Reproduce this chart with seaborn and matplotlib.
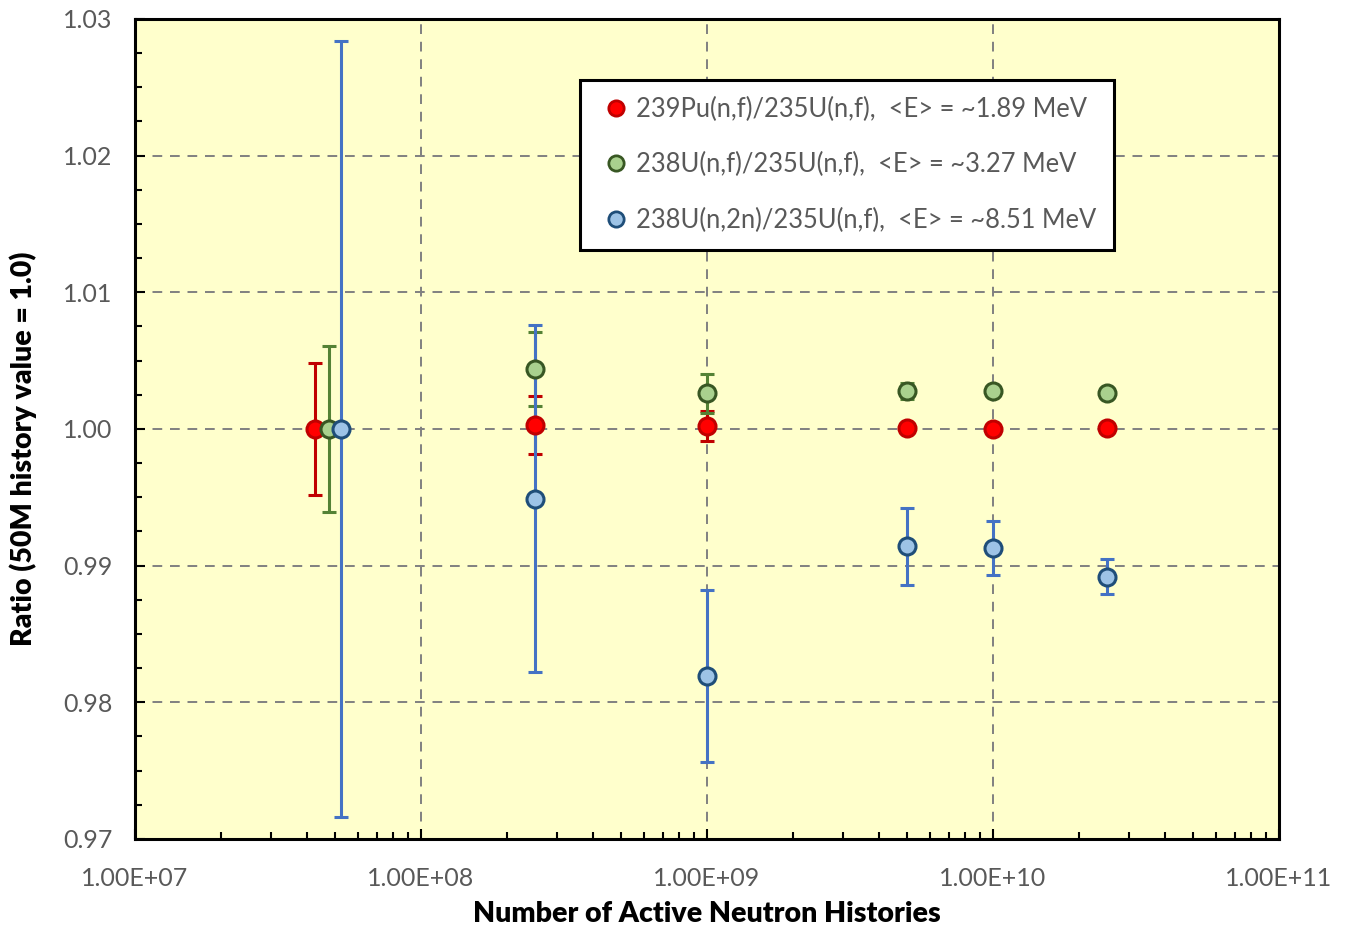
import numpy as np
import pandas as pd
import matplotlib
matplotlib.use("Agg")
import matplotlib.pyplot as plt
from matplotlib.lines import Line2D
from matplotlib.ticker import FixedLocator, FuncFormatter, LogLocator, NullFormatter, MultipleLocator
import seaborn as sns

# ---- data ----
labels = [
    "239Pu(n,f)/235U(n,f),  <E> = ~1.89 MeV",
    "238U(n,f)/235U(n,f),  <E> = ~3.27 MeV",
    "238U(n,2n)/235U(n,f),  <E> = ~8.51 MeV",
]
pu_x = [4.25e7, 2.5e8, 1.0e9, 5.0e9, 1.0e10, 2.5e10]
pu_y = [1.0000, 1.0003, 1.0002, 1.0001, 1.0000, 1.0001]
pu_err = [0.0048, 0.0021, 0.0011, 0.0002, 0.0002, 0.0002]

u8f_x = [4.75e7, 2.5e8, 1.0e9, 5.0e9, 1.0e10, 2.5e10]
u8f_y = [1.0000, 1.0044, 1.0026, 1.0028, 1.0028, 1.0026]
u8f_err = [0.0061, 0.0027, 0.0014, 0.0006, 0.0003, 0.0003]

u82n_x = [5.25e7, 2.5e8, 1.0e9, 5.0e9, 1.0e10, 2.5e10]
u82n_y = [1.0000, 0.9949, 0.9819, 0.9914, 0.9913, 0.9892]
u82n_err = [0.0284, 0.0127, 0.0063, 0.0028, 0.0020, 0.0013]

xticks = [1e7, 1e8, 1e9, 1e10, 1e11]
yticks = [0.97, 0.98, 0.99, 1.00, 1.01, 1.02, 1.03]

series = [
    (pu_x, pu_y, pu_err, "#FF0000", "#C00000", "#C00000"),
    (u8f_x, u8f_y, u8f_err, "#A9D18E", "#385723", "#548235"),
    (u82n_x, u82n_y, u82n_err, "#9DC3E6", "#1F4E79", "#4472C4"),
]

rows = []
for lab, (xs, ys, es, *_rest) in zip(labels, series):
    for x, y, e in zip(xs, ys, es):
        rows.append({"x": x, "y": y, "err": e, "series": lab})
df = pd.DataFrame(rows)

sns.set_theme(style="ticks")
plt.rcParams["font.family"] = ["Lato", "DejaVu Sans"]

fig = plt.figure(figsize=(13.5, 9.26), dpi=100)
ax = fig.add_axes([0.1, 0.094, 0.8474, 0.8855])
ax.set_facecolor("#FFFFCC")
ax.set_xscale("log")

# error bars
for lab, (xs, ys, es, fc, ec, erc) in zip(labels, series):
    sub = df[df["series"] == lab]
    ax.errorbar(sub["x"], sub["y"], yerr=sub["err"], fmt="none",
                ecolor=erc, elinewidth=2.2, capsize=5, capthick=2.2, zorder=3)

# markers
for lab, (xs, ys, es, fc, ec, erc) in zip(labels, series):
    sub = df[df["series"] == lab]
    sns.scatterplot(data=sub, x="x", y="y", ax=ax, s=150, color=fc,
                    edgecolor=ec, linewidth=2.2, zorder=4, legend=False)

ax.set_xlim(1e7, 1e11)
ax.set_ylim(0.97, 1.03)

ax.xaxis.set_major_locator(FixedLocator(xticks))
ax.xaxis.set_major_formatter(FuncFormatter(lambda v, p: f"{v:.2E}"))
ax.xaxis.set_minor_locator(LogLocator(base=10, subs=np.arange(2, 10)))
ax.xaxis.set_minor_formatter(NullFormatter())
ax.yaxis.set_major_locator(FixedLocator(yticks))
ax.yaxis.set_major_formatter(FuncFormatter(lambda v, p: f"{v:.2f}"))
ax.yaxis.set_minor_locator(MultipleLocator(0.0025))

ax.tick_params(axis="both", which="major", direction="in", length=7, width=1.5,
               colors="black", labelcolor="#595959", labelsize=18)
ax.tick_params(axis="x", which="major", pad=20)
ax.tick_params(axis="y", which="major", pad=16)
ax.tick_params(axis="both", which="minor", direction="in", length=5, width=1.5, colors="black")

ax.grid(True, which="major", linestyle=(0, (5, 4)), color="#808080", linewidth=1.4)
ax.set_axisbelow(True)
for sp in ax.spines.values():
    sp.set_visible(True)
    sp.set_color("black")
    sp.set_linewidth(2.2)

ax.set_xlabel("Number of Active Neutron Histories", fontsize=20.5, fontweight="heavy",
              color="black", labelpad=8)
ax.set_ylabel("Ratio (50M history value = 1.0)", fontsize=20.5, fontweight="heavy",
              color="black")
ax.yaxis.set_label_coords(-0.086, 0.476)

handles = [Line2D([0], [0], marker="o", linestyle="none", markersize=11,
                  markerfacecolor=fc, markeredgecolor=ec, markeredgewidth=2)
           for (_, _, _, fc, ec, _) in series]
leg = ax.legend(handles, labels, loc="upper left", bbox_to_anchor=(0.389, 0.926),
                fontsize=18.4, frameon=True, fancybox=False, framealpha=1,
                edgecolor="black", borderpad=0.66, labelspacing=1.2,
                handletextpad=0.05, handlelength=1.5, borderaxespad=0)
leg.get_frame().set_linewidth(2.2)
for t in leg.get_texts():
    t.set_color("#595959")

fig.savefig("out.png", dpi=100, facecolor="white")
